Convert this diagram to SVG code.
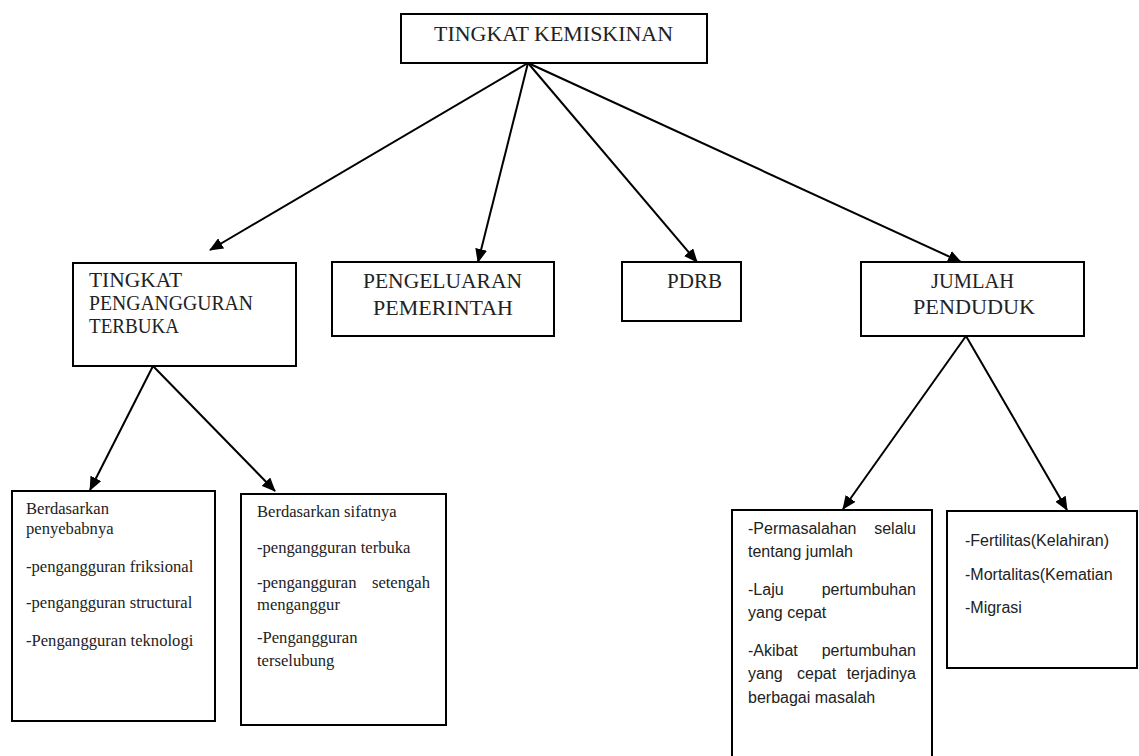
<svg xmlns="http://www.w3.org/2000/svg" width="1139" height="756" viewBox="0 0 1139 756">
<style>
.box{fill:#fff;stroke:#000;stroke-width:2}
.hd{font-family:"Liberation Serif","Times New Roman",serif;font-size:20px;fill:#222}
.sr{font-family:"Liberation Serif","Times New Roman",serif;font-size:16.6px;fill:#222}
.ss{font-family:"Liberation Sans",Arial,sans-serif;font-size:16px;fill:#222}
.con{stroke:#000;stroke-width:2;fill:none;marker-end:url(#ah)}
</style>
<defs>
<marker id="ah" markerUnits="userSpaceOnUse" markerWidth="14" markerHeight="12" refX="13" refY="6" orient="auto">
<path d="M0,0 L14,6 L0,12 Z" fill="#000"/>
</marker>
</defs>
<rect width="1139" height="756" fill="#fff"/>
<g id="connectors">
<line class="con" x1="528" y1="63" x2="210" y2="250"/>
<line class="con" x1="528" y1="63" x2="478" y2="262"/>
<line class="con" x1="528" y1="63" x2="697" y2="262"/>
<line class="con" x1="528" y1="63" x2="961" y2="262"/>
<line class="con" x1="153" y1="366" x2="90" y2="490"/>
<line class="con" x1="153" y1="366" x2="275" y2="491"/>
<line class="con" x1="966" y1="336" x2="843" y2="509"/>
<line class="con" x1="966" y1="336" x2="1067" y2="510"/>
</g>
<g id="n-kemiskinan">
<rect class="box" x="401" y="14" width="306" height="49"/>
<text class="hd" x="434" y="41" textLength="239" lengthAdjust="spacingAndGlyphs">TINGKAT KEMISKINAN</text>
</g>
<g id="n-tpt">
<rect class="box" x="73" y="263" width="223" height="103"/>
<text class="hd" x="89" y="287" textLength="93" lengthAdjust="spacingAndGlyphs">TINGKAT</text>
<text class="hd" x="89" y="310" textLength="164" lengthAdjust="spacingAndGlyphs">PENGANGGURAN</text>
<text class="hd" x="89" y="333" textLength="90" lengthAdjust="spacingAndGlyphs">TERBUKA</text>
</g>
<g id="n-pengeluaran">
<rect class="box" x="332" y="262" width="222" height="74"/>
<text class="hd" x="363" y="288" textLength="159" lengthAdjust="spacingAndGlyphs">PENGELUARAN</text>
<text class="hd" x="373" y="315" textLength="140" lengthAdjust="spacingAndGlyphs">PEMERINTAH</text>
</g>
<g id="n-pdrb">
<rect class="box" x="622" y="262" width="119" height="59"/>
<text class="hd" x="667" y="288" textLength="55" lengthAdjust="spacingAndGlyphs">PDRB</text>
</g>
<g id="n-jumlah">
<rect class="box" x="861" y="262" width="223" height="74"/>
<text class="hd" x="931" y="288" textLength="83" lengthAdjust="spacingAndGlyphs">JUMLAH</text>
<text class="hd" x="913" y="314" textLength="122" lengthAdjust="spacingAndGlyphs">PENDUDUK</text>
</g>
<g id="n-penyebab">
<rect class="box" x="12" y="491" width="203" height="230"/>
<text class="sr" x="26" y="514">Berdasarkan</text>
<text class="sr" x="26" y="534">penyebabnya</text>
<text class="sr" x="26" y="572">-pengangguran friksional</text>
<text class="sr" x="26" y="608">-pengangguran structural</text>
<text class="sr" x="26" y="646">-Pengangguran teknologi</text>
</g>
<g id="n-sifat">
<rect class="box" x="241" y="494" width="205" height="231"/>
<text class="sr" x="257" y="517">Berdasarkan sifatnya</text>
<text class="sr" x="257" y="553">-pengangguran terbuka</text>
<text class="sr" x="257" y="588">-pengangguran</text>
<text class="sr" x="430" y="588" text-anchor="end">setengah</text>
<text class="sr" x="257" y="610">menganggur</text>
<text class="sr" x="257" y="643">-Pengangguran</text>
<text class="sr" x="257" y="666">terselubung</text>
</g>
<g id="n-permasalahan">
<path class="box" d="M732,758 V510 H932 V758"/>
<text class="ss" x="748" y="534">-Permasalahan</text>
<text class="ss" x="916" y="534" text-anchor="end">selalu</text>
<text class="ss" x="748" y="557">tentang jumlah</text>
<text class="ss" x="748" y="595">-Laju</text>
<text class="ss" x="916" y="595" text-anchor="end">pertumbuhan</text>
<text class="ss" x="748" y="618">yang cepat</text>
<text class="ss" x="748" y="656">-Akibat</text>
<text class="ss" x="916" y="656" text-anchor="end">pertumbuhan</text>
<text class="ss" x="748" y="679">yang</text>
<text class="ss" x="797" y="679">cepat</text>
<text class="ss" x="916" y="679" text-anchor="end">terjadinya</text>
<text class="ss" x="748" y="703">berbagai masalah</text>
</g>
<g id="n-demografi">
<rect class="box" x="947" y="511" width="190" height="157"/>
<text class="ss" x="965" y="546">-Fertilitas(Kelahiran)</text>
<text class="ss" x="965" y="580">-Mortalitas(Kematian</text>
<text class="ss" x="965" y="613">-Migrasi</text>
</g>
</svg>
